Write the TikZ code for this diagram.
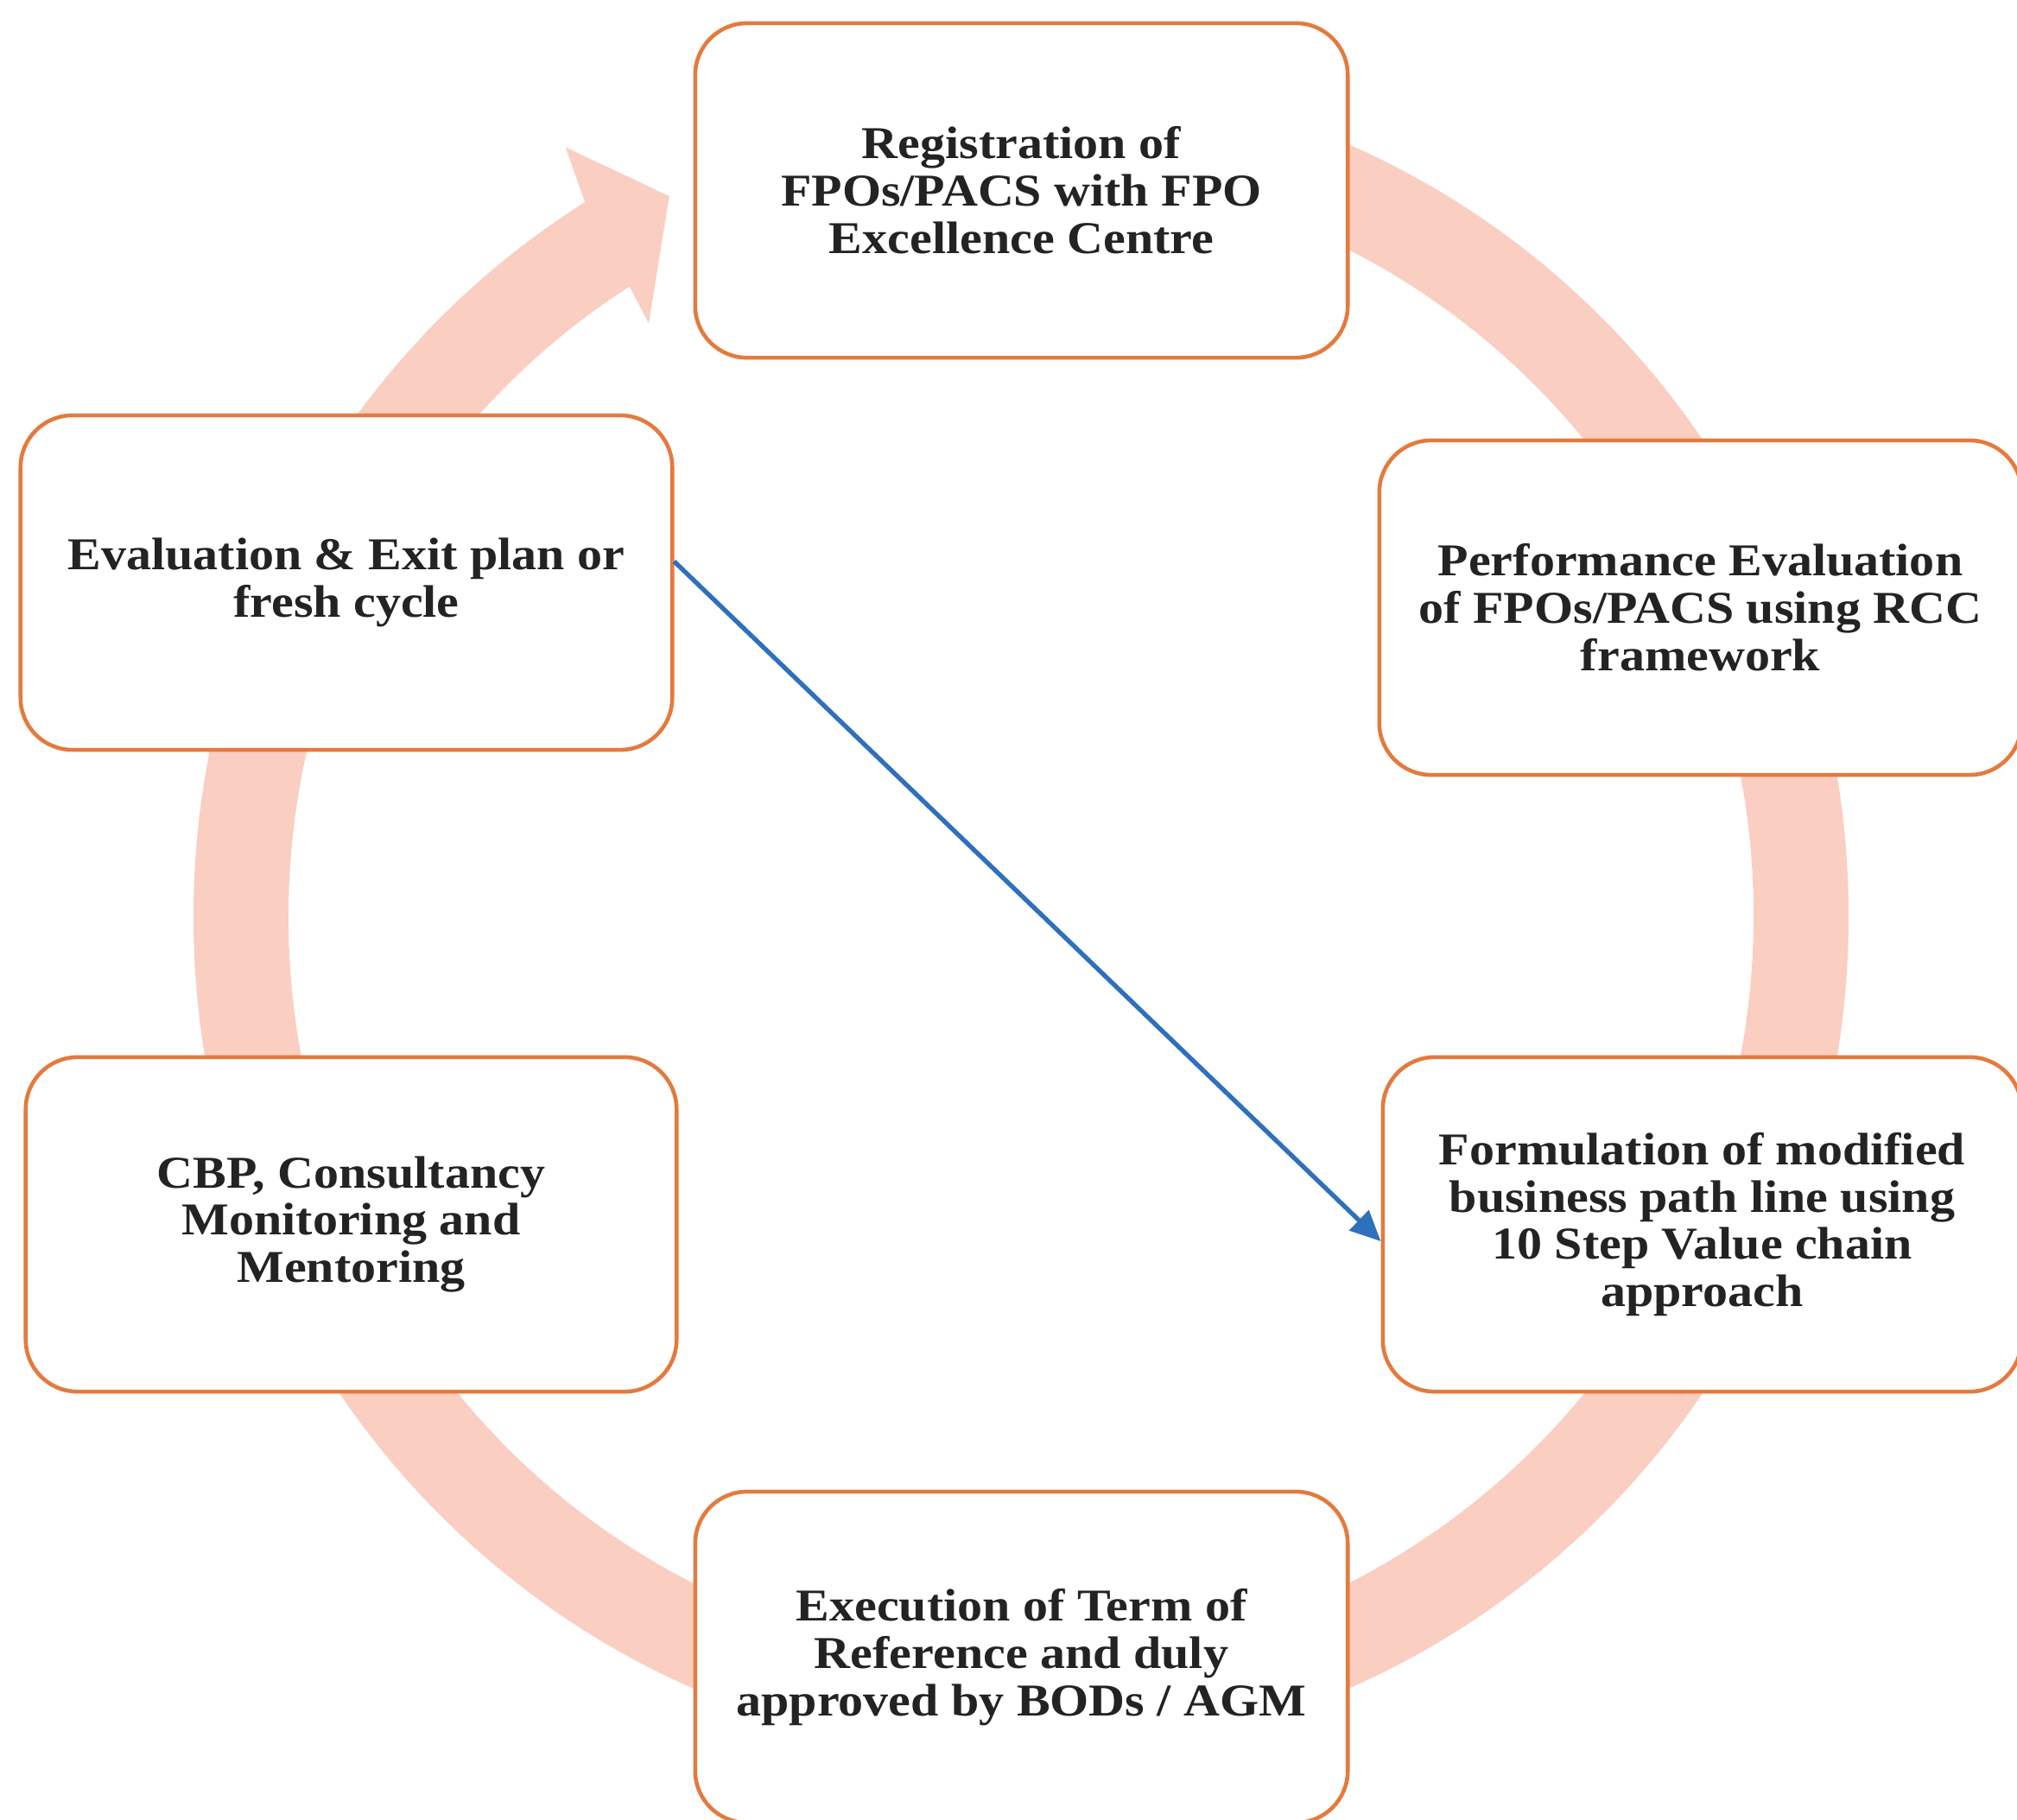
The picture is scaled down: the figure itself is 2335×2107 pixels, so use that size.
\documentclass[tikz,border=0pt]{standalone}
\usepackage{fontspec}
\setmainfont{Liberation Serif}[FakeStretch=1.1]
\usetikzlibrary{arrows.meta}
\definecolor{ringpink}{RGB}{250,206,193}
\definecolor{boxorange}{RGB}{228,122,62}
\definecolor{arrowblue}{RGB}{46,112,188}
\definecolor{txt}{RGB}{35,35,35}
\begin{document}
\begin{tikzpicture}[x=0.01cm,y=0.01cm,
  stage/.style={draw=boxorange, line width=1.3pt, fill=white, rounded corners=0.6cm,
    align=center, text=txt, inner sep=0pt,
    font=\bfseries\fontsize{15}{15.6}\selectfont},
  cyclearrow/.style={fill=ringpink}]
\useasboundingbox[fill=white] (0,0) rectangle (2335,-2107);
\clip (0,0) rectangle (2335,-2107);
% big circular arrow
\fill[cyclearrow, shift={(1182,-1061)}]
  (450:958 and 973) arc[start angle=450, end angle=121.8, x radius=958, y radius=973]
  -- (121.0:1024 and 1039) -- (116.4:916 and 931) -- (122.6:800 and 815)
  -- (122.3:848 and 863) arc[start angle=122.3, end angle=450, x radius=848, y radius=863]
  -- cycle;
% stages
\node[stage, minimum width=7.55cm, minimum height=3.87cm] (reg) at (1182.5,-220.5)
  {Registration of\\FPOs/PACS with FPO\\Excellence Centre};
\node[stage, minimum width=7.43cm, minimum height=3.87cm] (perf) at (1968.5,-703.5)
  {Performance Evaluation\\of FPOs/PACS using RCC\\framework};
\node[stage, minimum width=7.39cm, minimum height=3.87cm] (form) at (1970.5,-1417.5)
  {Formulation of modified\\business path line using\\10 Step Value chain\\approach};
\node[stage, minimum width=7.55cm, minimum height=3.83cm] (exec) at (1182.5,-1918.5)
  {Execution of Term of\\Reference and duly\\approved by BODs / AGM};
\node[stage, minimum width=7.53cm, minimum height=3.87cm] (cbp) at (406.5,-1417.5)
  {CBP, Consultancy\\Monitoring and\\Mentoring};
\node[stage, minimum width=7.54cm, minimum height=3.87cm] (eval) at (401,-674.5)
  {Evaluation \& Exit plan or\\fresh cycle};
% blue connector
\draw[arrowblue, line width=1.5pt, -{Triangle[length=10pt,width=9pt]}]
  ([yshift=0.245cm]eval.east) -- ([yshift=-0.195cm]form.west);
\end{tikzpicture}
\end{document}
